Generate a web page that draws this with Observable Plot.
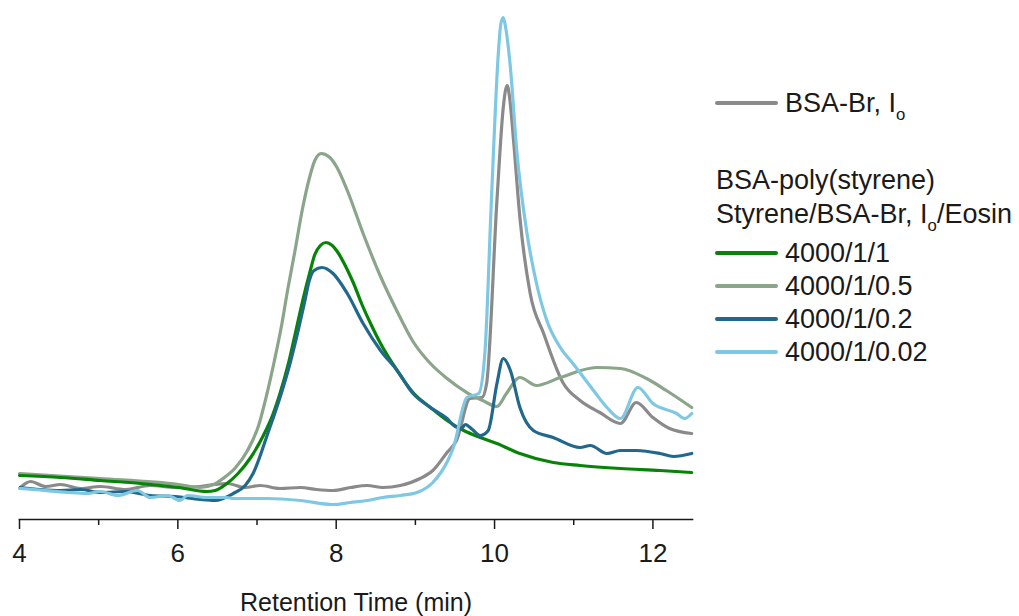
<!DOCTYPE html>
<html>
<head>
<meta charset="utf-8">
<script src="https://cdn.jsdelivr.net/npm/d3@7"></script>
<script src="https://cdn.jsdelivr.net/npm/@observablehq/plot@0.6"></script>
<style>
  html, body { margin: 0; padding: 0; background: #fff; }
  #wrap { position: relative; width: 1019px; height: 616px; font-family: "Liberation Sans", Arial, sans-serif; color: #1a1a1a; }
  .sw { position: absolute; height: 4px; border-radius: 2px; }
  .lt { position: absolute; font-size: 27px; line-height: 30px; white-space: nowrap; transform: translateY(-50%); }
  .lt sub { font-size: 62%; vertical-align: -0.45em; line-height: 0; }
</style>
</head>
<body>
<div id="wrap"></div>
<script>
// ---- data (retention time in min, detector signal in arbitrary units) ----
const seriesNames = ["BSA-Br, Io", "4000/1/0.5", "4000/1/1", "4000/1/0.2", "4000/1/0.02"];
const seriesColors = ["#8a8a8a", "#8ba58b", "#078407", "#21688c", "#7ec8e3"];

const grayT = [4.01,4.14,4.33,4.52,4.77,5.02,5.34,5.65,5.97,6.28,6.47,6.62,6.85,7.04,7.29,7.55,7.75,7.96,8.18,8.39,8.59,8.81,9.06,9.22,9.40,9.52,9.69,9.84,9.90,10.03,10.11,10.14,10.16,10.19,10.24,10.32,10.45,10.62,10.87,11.08,11.33,11.59,11.79,12.00,12.21,12.49];
const grayV = [30,36,31,33,29,31,28,32,30,31,33,34,30,32,29,30,28,27,30,32,30,32,39,47,65,77,119,120,134,317,410,428,432,420,377,300,224,184,134,117,105,94,115,100,89,84];

const sageT = [4.00,5.02,6.01,6.28,6.45,6.57,6.73,6.88,7.02,7.12,7.22,7.31,7.39,7.48,7.57,7.66,7.73,7.81,7.92,8.01,8.14,8.34,8.56,8.77,8.97,9.19,9.40,9.65,9.85,10.03,10.15,10.32,10.53,10.83,11.29,11.59,11.92,12.17,12.49];
const sageV = [44,39,33,30,33,39,50,67,92,122,157,192,229,267,307,339,357,364,360,350,327,284,241,206,176,154,139,125,117,111,124,140,132,140,150,149,139,127,110];

const greenT = [4.00,4.52,5.02,5.53,6.01,6.37,6.47,6.62,6.76,6.92,7.08,7.20,7.29,7.40,7.50,7.58,7.66,7.73,7.80,7.87,7.95,8.03,8.12,8.22,8.32,8.44,8.56,8.77,8.97,9.19,9.40,9.61,9.82,10.03,10.32,10.74,11.08,11.59,12.09,12.49];
const greenV = [42,40,37,34,30,26,27,34,44,60,82,103,124,155,190,218,243,263,272,275,272,264,251,234,214,193,174,147,125,110,97,87,80,74,64,55,52,49,47,45];

const darkT = [4.01,4.26,4.52,4.77,5.02,5.34,5.65,5.97,6.28,6.47,6.70,6.85,6.95,7.14,7.29,7.42,7.52,7.60,7.66,7.72,7.82,7.96,8.14,8.34,8.56,8.77,8.97,9.19,9.40,9.50,9.58,9.63,9.72,9.82,9.92,10.03,10.11,10.20,10.32,10.49,10.74,11.08,11.21,11.42,11.59,11.79,12.09,12.26,12.49];
const darkV = [30,28,27,28,25,26,22,21,18,17,24,32,44,85,120,155,187,215,237,247,250,244,224,194,167,147,124,110,99,91,89,93,88,82,87,134,159,147,110,87,80,70,72,64,67,67,64,61,64];

const lightT = [4.00,4.18,4.61,4.86,5.02,5.24,5.49,5.65,5.87,6.03,6.12,6.37,6.62,6.70,7.13,7.55,7.96,8.18,8.39,8.59,8.81,9.02,9.22,9.41,9.48,9.65,9.80,9.88,9.96,10.05,10.08,10.11,10.14,10.20,10.28,10.41,10.53,10.66,10.83,10.99,11.25,11.42,11.59,11.81,12.00,12.30,12.40,12.49];
const lightV = [29,28,25,24,26,22,27,20,22,17,22,20,20,19,19,17,13,15,17,20,22,25,35,57,70,120,124,167,317,467,494,500,490,450,367,284,234,197,170,154,127,110,99,130,114,104,99,104];

const majorTicks = [4, 6, 8, 10, 12];
const minorTicks = [5, 7, 9, 11];
const xTitle = "Retention Time (min)";

// ---- build table ----
const seriesData = [[grayT, grayV], [sageT, sageV], [greenT, greenV], [darkT, darkV], [lightT, lightV]];
const rows = [];
seriesData.forEach(([T, V], i) => T.forEach((t, j) => rows.push({series: seriesNames[i], t, v: V[j]})));

const chart = Plot.plot({
  width: 1019,
  height: 616,
  marginLeft: 19,
  marginRight: 327,
  marginTop: 17,
  marginBottom: 97,
  style: {fontFamily: "'Liberation Sans', Arial, sans-serif", fontSize: "26px", color: "#1a1a1a", background: "#fff"},
  x: {domain: [4, 12.5]},
  y: {domain: [-2, 500], axis: null},
  color: {domain: seriesNames, range: seriesColors},
  marks: [
    Plot.line(rows, {x: "t", y: "v", z: "series", stroke: "series", strokeWidth: 3.2, curve: "monotone-x"}),
    Plot.frame({anchor: "bottom", stroke: "#1a1a1a", strokeWidth: 1.6}),
    Plot.axisX({ticks: majorTicks, tickSize: 10, tickPadding: 14, strokeWidth: 1.5, tickFormat: d => String(d), fontSize: 26, label: null}),
    Plot.axisX({ticks: minorTicks, tickSize: 6, strokeWidth: 1.5, tickFormat: () => "", label: null}),
    Plot.text([xTitle], {text: d => d, frameAnchor: "bottom", dy: 91, fontSize: 25, fill: "#1a1a1a"})
  ]
});

const wrap = document.getElementById("wrap");
wrap.appendChild(chart);

// ---- legend (HTML overlay) ----
function swatch(color, y) {
  const d = document.createElement("div");
  d.className = "sw";
  d.style.left = "715px"; d.style.width = "63px";
  d.style.top = (y - 2) + "px";
  d.style.background = color;
  wrap.appendChild(d);
}
function label(html, x, y) {
  const d = document.createElement("div");
  d.className = "lt";
  d.style.left = x + "px"; d.style.top = y + "px";
  d.innerHTML = html;
  wrap.appendChild(d);
}
swatch(seriesColors[0], 103);
label("BSA-Br, I<sub>o</sub>", 785, 103);
label("BSA-poly(styrene)", 716, 180);
label("Styrene/BSA-Br, I<sub>o</sub>/Eosin", 716, 214);
const legendOrder = [2, 1, 3, 4];
const legendY = [253, 286, 319, 352];
legendOrder.forEach((k, i) => {
  swatch(seriesColors[k], legendY[i]);
  label(seriesNames[k], 785, legendY[i]);
});
</script>
</body>
</html>
